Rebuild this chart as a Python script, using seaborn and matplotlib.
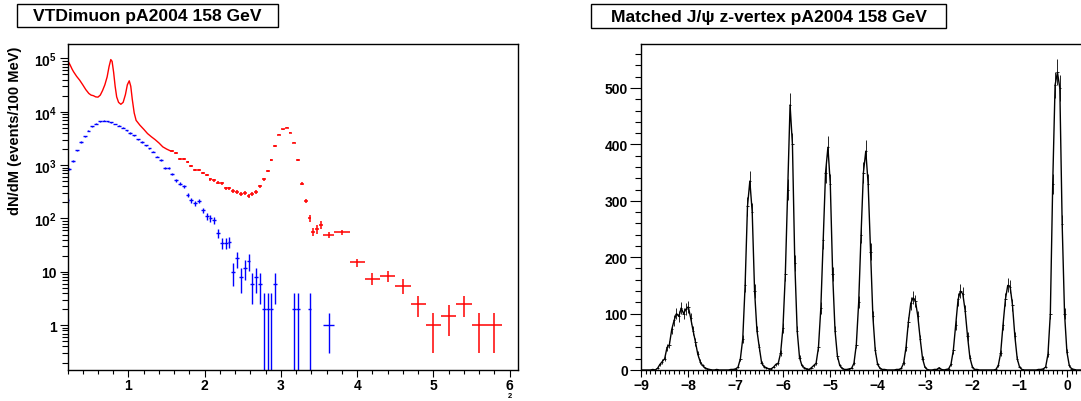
import numpy as np
import matplotlib
matplotlib.use("Agg")
import matplotlib.pyplot as plt
import seaborn as sns
from matplotlib.patches import Rectangle
from matplotlib.ticker import FixedLocator, FixedFormatter, MultipleLocator, NullFormatter

# ---------------- Left panel: dimuon mass spectra ----------------
# red: fine-binned low-mass region (drawn as a continuous curve)
red_line_m = [0.200, 0.215, 0.235, 0.260, 0.280, 0.320, 0.360, 0.400, 0.440, 0.480,
              0.510, 0.540, 0.570, 0.600, 0.630, 0.660, 0.690, 0.720, 0.745, 0.768,
              0.785, 0.805, 0.825, 0.845, 0.870, 0.900, 0.930, 0.960, 0.985, 1.010,
              1.030, 1.050, 1.075, 1.100, 1.150, 1.200, 1.250, 1.300, 1.350, 1.400,
              1.450, 1.500, 1.550]
red_line_v = [40000, 85000, 75000, 63000, 56000, 46000, 39000, 32000, 26000, 22000,
              20500, 20000, 19000, 18800, 20500, 25000, 32000, 45000, 70000, 95000,
              88000, 55000, 30000, 19000, 15000, 13800, 15000, 21000, 32000, 38000,
              30000, 17000, 9500, 6900, 5600, 4700, 3900, 3400, 3000, 2600,
              2200, 2000, 1850]

# red: binned points with error bars
red_pts_m = [1.575, 1.625, 1.675, 1.725, 1.775, 1.825, 1.875, 1.925, 1.975, 2.025,
             2.075, 2.125, 2.175, 2.225, 2.275, 2.325, 2.375, 2.425, 2.475, 2.525,
             2.575, 2.625, 2.675, 2.725, 2.775, 2.825, 2.875, 2.925, 2.975, 3.025,
             3.075, 3.125, 3.175, 3.225, 3.275, 3.325, 3.375, 3.425, 3.475, 3.525,
             3.625, 3.800, 4.0, 4.2, 4.4, 4.6, 4.8, 5.0, 5.2, 5.4, 5.6, 5.8]
red_pts_hw = [0.025] * 40 + [0.075, 0.1] + [0.1] * 10
red_pts_v = [1820, 1700, 1320, 1280, 1150, 960, 800, 800, 720, 650,
             540, 520, 470, 455, 365, 365, 330, 318, 290, 305,
             263, 290, 310, 405, 545, 780, 1240, 2300, 3720, 4700,
             5030, 4050, 2650, 1240, 450, 215, 100, 57, 63, 77,
             49, 55, 15, 7.5, 8.5, 5.5, 2.5, 1, 1.5, 2.5, 1, 1]
red_pts_err = [60, 58, 51, 51, 48, 44, 40, 40, 38, 36,
               33, 32, 31, 30, 27, 27, 26, 25, 24, 25,
               23, 24, 25, 28, 33, 39.5, 50, 68, 86, 97,
               100, 90, 73, 50, 30, 21, 14, 10.7, 11.2, 12.4,
               5.7, 5.2, 2.7, 1.9, 2.1, 1.7, 1.1, 0.7, 0.87, 1.1, 0.7, 0.7]

# blue: second spectrum, binned points with error bars
blue_m = [0.200, 0.225, 0.275, 0.325, 0.375, 0.425, 0.475, 0.525, 0.575, 0.625,
          0.675, 0.725, 0.775, 0.825, 0.875, 0.925, 0.975, 1.025, 1.075, 1.125,
          1.175, 1.225, 1.275, 1.325, 1.375, 1.425, 1.475, 1.525, 1.575, 1.625,
          1.675, 1.725, 1.775, 1.825, 1.875, 1.925, 1.975, 2.025, 2.075, 2.125,
          2.175, 2.225, 2.275, 2.325, 2.375, 2.425, 2.475, 2.525, 2.575, 2.625,
          2.675, 2.725, 2.775, 2.825, 2.875, 2.925, 3.175, 3.225, 3.375, 3.625]
blue_hw = [0.025] * 59 + [0.075]
blue_v = [220, 850, 1200, 1900, 2700, 3500, 4400, 5300, 6000, 6600,
          6800, 6600, 6300, 5900, 5500, 5000, 4500, 4000, 3600, 3050,
          2700, 2350, 2050, 1800, 1450, 1250, 900, 880, 680, 520,
          450, 400, 280, 220, 195, 215, 143, 110, 100, 92,
          54, 35, 35, 36, 10, 18, 8, 12, 16, 6,
          8, 6, 2, 2, 2, 6, 2, 2, 2, 1]
blue_err = [21, 41, 49, 62, 73, 84, 94, 103, 110, 115,
            117, 115, 112, 109, 105, 100, 95, 89, 85, 78,
            73, 69, 64, 60, 54, 50, 42, 42, 37, 32,
            30, 28, 24, 21, 20, 21, 17, 15, 14, 14,
            10, 8.4, 8.4, 8.5, 4.5, 6, 4, 4.9, 5.7, 3.5,
            4, 3.5, 2, 2, 2, 3.5, 2, 2, 2, 0.7]

mass_ticks = [1, 2, 3, 4, 5, 6]
log_ticks = [1, 10, 100, 1000, 10000, 100000]
log_tick_labels = ["1", "10", r"$10^{2}$", r"$10^{3}$", r"$10^{4}$", r"$10^{5}$"]

# ---------------- Right panel: z-vertex distribution ----------------
z_first_center = -9.0
z_bin_width = 0.05
z_counts = [
    0, 0, 0, 0, 0, 1, 0, 3, 10, 15,              # -9.00 .. -8.55
    20, 40, 45, 72, 88, 100, 95, 110, 100, 108,  # -8.50 .. -8.05
    112, 92, 70, 50, 28, 15, 8, 4, 2, 1,         # -8.00 .. -7.55
    0, 0, 1, 0, 0, 0, 0, 0, 1, 1,                # -7.50 .. -7.05
    2, 5, 20, 55, 150, 290, 335, 280, 140, 70,   # -7.00 .. -6.55
    40, 12, 6, 4, 2, 2, 5, 10, 12, 30,           # -6.50 .. -6.05
    75, 170, 320, 470, 400, 190, 70, 22, 8, 4,   # -6.00 .. -5.55
    2, 1, 4, 8, 12, 40, 110, 230, 350, 395,      # -5.50 .. -5.05
    330, 170, 70, 25, 8, 3, 1, 1, 2, 3,          # -5.00 .. -4.55
    12, 45, 120, 240, 350, 388, 330, 210, 95, 35,  # -4.50 .. -4.05
    10, 3, 1, 1, 0, 0, 0, 0, 1, 1,               # -4.00 .. -3.55
    3, 12, 40, 85, 118, 128, 122, 95, 55, 20,    # -3.50 .. -3.05
    5, 1, 0, 0, 1, 1, 4, 1, 0, 1,                # -3.00 .. -2.55
    2, 10, 35, 80, 125, 140, 135, 105, 60, 22,   # -2.50 .. -2.05
    6, 1, 1, 0, 0, 0, 0, 0, 0, 0,                # -2.00 .. -1.55
    1, 8, 30, 80, 125, 150, 148, 115, 60, 20,    # -1.50 .. -1.05
    5, 1, 0, 0, 0, 0, 0, 0, 1, 1,                # -1.00 .. -0.55
    2, 5, 28, 100, 330, 505, 528, 500, 258, 100,  # -0.50 .. -0.05
    32, 8, 2, 1, 0, 0, 0,                        # 0.00 .. 0.30
]
z_ticks = [-9, -8, -7, -6, -5, -4, -3, -2, -1, 0]
count_ticks = [0, 100, 200, 300, 400, 500]

title_left = "VTDimuon pA2004 158 GeV"
title_right = "Matched J/ψ z-vertex pA2004 158 GeV"
ylabel_left = "dN/dM (events/100 MeV)"

# ---------------- styling ----------------
sns.set_theme(style="ticks")
plt.rcParams["font.family"] = ["Liberation Sans", "DejaVu Sans"]
plt.rcParams.update({
    "font.weight": "bold",
    "mathtext.fontset": "custom",
    "mathtext.rm": "Liberation Sans:bold",
    "mathtext.bf": "Liberation Sans:bold",
    "mathtext.it": "Liberation Sans:bold",
    "mathtext.default": "bf",
    "axes.linewidth": 1.0,
    "axes.edgecolor": "black",
    "xtick.color": "black",
    "ytick.color": "black",
})

W, H = 1081, 402
fig = plt.figure(figsize=(W / 100, H / 100), dpi=100)
fig.patch.set_facecolor("white")


def fx(px):
    return px / W


def fy(py):
    return 1 - py / H


BOT = 371
TOP = 45
axL = fig.add_axes([fx(67.5), fy(BOT), fx(518 - 67.5), (BOT - TOP) / H])
axR = fig.add_axes([fx(641), fy(BOT), fx(1083 - 641), (BOT - TOP) / H])

# ---- left ----
sns.lineplot(x=red_line_m, y=red_line_v, ax=axL, color="#ff0000", lw=1.0,
             estimator=None, sort=False)
axL.errorbar(red_pts_m, red_pts_v, xerr=red_pts_hw, yerr=red_pts_err, fmt="none",
             ecolor="#ff0000", elinewidth=1.1, capsize=0)
axL.errorbar(blue_m, blue_v, xerr=blue_hw, yerr=blue_err, fmt="none",
             ecolor="#0000ff", elinewidth=1.0, capsize=0)
axL.set_yscale("log", nonpositive="clip")
axL.set_xlim(0.2, 6.11)
axL.set_ylim(0.145, 1.86e5)
axL.xaxis.set_major_locator(FixedLocator(mass_ticks))
axL.xaxis.set_minor_locator(MultipleLocator(0.2))
axL.yaxis.set_major_locator(FixedLocator(log_ticks))
axL.yaxis.set_major_formatter(FixedFormatter(log_tick_labels))
minor_log = [d * k for d in [0.1, 1, 10, 100, 1000, 10000, 100000] for k in range(2, 10)]
axL.yaxis.set_minor_locator(FixedLocator(minor_log))
axL.yaxis.set_minor_formatter(NullFormatter())
axL.set_xlabel("")
axL.set_ylabel("")

# ---- right ----
z_centers = z_first_center + z_bin_width * np.arange(len(z_counts))
z_counts_arr = np.array(z_counts, dtype=float)
sns.lineplot(x=z_centers, y=z_counts_arr, ax=axR, color="black", lw=1.0,
             estimator=None, sort=False)
axR.errorbar(z_centers, z_counts_arr, xerr=z_bin_width / 2, yerr=np.sqrt(z_counts_arr),
             fmt="none", ecolor="black", elinewidth=0.6, capsize=0)
axR.set_xlim(-9, 0.34)
axR.set_ylim(0, 578)
axR.xaxis.set_major_locator(FixedLocator(z_ticks))
axR.xaxis.set_minor_locator(MultipleLocator(0.1))
axR.yaxis.set_major_locator(FixedLocator(count_ticks))
axR.yaxis.set_minor_locator(MultipleLocator(20))
axR.set_xlabel("")
axR.set_ylabel("")
axR.spines["right"].set_visible(False)

for ax in (axL, axR):
    ax.set_facecolor("white")
    ax.grid(False)
    for s in ax.spines.values():
        s.set_color("black")
        s.set_linewidth(1.0)
    ax.tick_params(axis="x", which="major", direction="out", length=5, width=0.8,
                   labelsize=10, pad=1.0, colors="black")
    ax.tick_params(axis="x", which="minor", direction="out", length=3, width=0.8,
                   colors="black")
    for lab in ax.get_xticklabels() + ax.get_yticklabels():
        lab.set_fontweight("bold")

axL.tick_params(axis="y", which="major", direction="out", length=6, width=0.8,
                labelsize=10, pad=1.5, colors="black")
axL.tick_params(axis="y", which="minor", direction="out", length=4, width=0.8,
                colors="black")
axR.tick_params(axis="y", which="major", direction="out", length=8, width=0.8,
                labelsize=10, pad=1.5, colors="black")
axR.tick_params(axis="y", which="minor", direction="out", length=4, width=0.8,
                colors="black")

# ---- titles in boxes ----
for (x0, x1, y0, y1, txt) in [(16.5, 278, 5, 28, title_left),
                              (591, 946, 5, 29, title_right)]:
    fig.patches.append(Rectangle((fx(x0), fy(y1)), fx(x1 - x0), (y1 - y0) / H,
                                 transform=fig.transFigure, facecolor="white",
                                 edgecolor="black", linewidth=1.0))
    fig.text(fx((x0 + x1) / 2), fy((y0 + y1) / 2 + 0.5), txt, ha="center", va="center",
             fontsize=12.6, fontweight="bold", color="black")

fig.text(fx(15), fy(131), ylabel_left, rotation=90, ha="center", va="center",
         fontsize=10.5, fontweight="bold", color="black")
fig.text(fx(510), fy(397), "2", ha="center", va="center", fontsize=5.5,
         fontweight="bold", color="black")

fig.savefig("out.png", dpi=100, facecolor="white")
